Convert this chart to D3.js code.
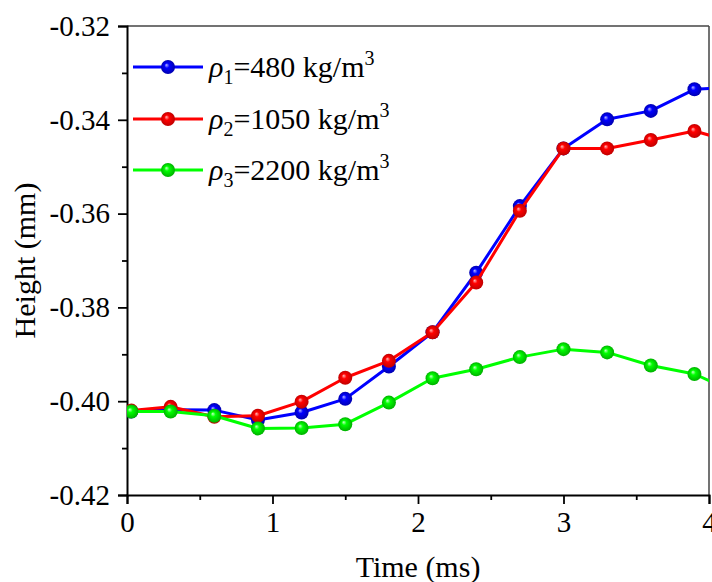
<!DOCTYPE html>
<html>
<head>
<meta charset="utf-8">
<script src="https://cdn.jsdelivr.net/npm/d3@7"></script>
<style>
  html, body { margin: 0; padding: 0; background: #fff; }
  svg text { font-family: "Liberation Serif", "Times New Roman", serif; }
</style>
</head>
<body>
<div id="chart"></div>
<script>
// Sampling times (ms); the last sample lies past the 4 ms edge and is clipped
const times = [0.03, 0.3, 0.6, 0.9, 1.2, 1.5, 1.8, 2.1, 2.4, 2.7, 3.0, 3.3, 3.6, 3.9, 4.2];

// Height (mm) for each density
const rho1Heights = [-0.4022, -0.4018, -0.4019, -0.4040, -0.4024, -0.3995, -0.3926, -0.3853, -0.3726, -0.3584, -0.3461, -0.3399, -0.3381, -0.3335, -0.3330];
const rho2Heights = [-0.4020, -0.4012, -0.4033, -0.4031, -0.4001, -0.3950, -0.3914, -0.3853, -0.3747, -0.3594, -0.3461, -0.3461, -0.3443, -0.3424, -0.3450];
const rho3Heights = [-0.4022, -0.4022, -0.4031, -0.4058, -0.4057, -0.4049, -0.4003, -0.3951, -0.3932, -0.3906, -0.3889, -0.3896, -0.3924, -0.3942, -0.3985];

const seriesNames = ["ρ1", "ρ2", "ρ3"];
const seriesUnits = ["480", "1050", "2200"];
const seriesColors = ["#0000ff", "#ff0000", "#00ff00"];
const seriesDark = ["#0000b0", "#c00000", "#00b000"];
const seriesLight = ["#b8b8ff", "#ffb8b8", "#c8ffc8"];

const xTicks = [0, 1, 2, 3, 4];
const xMinorTicks = [0.5, 1.5, 2.5, 3.5];
const xTickLabels = ["0", "1", "2", "3", "4"];
const yTicks = [-0.42, -0.40, -0.38, -0.36, -0.34, -0.32];
const yMinorTicks = [-0.41, -0.39, -0.37, -0.35, -0.33];
const yTickLabels = ["-0.42", "-0.40", "-0.38", "-0.36", "-0.34", "-0.32"];

const width = 712, height = 582;
const margin = { top: 26, right: 3, bottom: 87, left: 127 };
const serif = "Liberation Serif";

const svg = d3.select("#chart").append("svg")
  .attr("width", width).attr("height", height)
  .attr("font-family", serif);

const x = d3.scaleLinear().domain([0, 4]).range([margin.left, width - margin.right]);
const y = d3.scaleLinear().domain([-0.42, -0.32]).range([height - margin.bottom, margin.top]);

const defs = svg.append("defs");
defs.append("clipPath").attr("id", "plot-clip")
  .append("rect")
  .attr("x", x(0)).attr("y", y(-0.32))
  .attr("width", x(4) - x(0)).attr("height", y(-0.42) - y(-0.32));

// glossy ball markers
seriesColors.forEach((c, i) => {
  const g = defs.append("radialGradient").attr("id", "ball" + i)
    .attr("cx", "50%").attr("cy", "50%").attr("r", "50%")
    .attr("fx", "38%").attr("fy", "35%");
  g.append("stop").attr("offset", "0%").attr("stop-color", seriesLight[i]);
  g.append("stop").attr("offset", "35%").attr("stop-color", c);
  g.append("stop").attr("offset", "100%").attr("stop-color", seriesDark[i]);
});

// frame: top and right edges
svg.append("line")
  .attr("x1", x(0)).attr("x2", x(4)).attr("y1", y(-0.32)).attr("y2", y(-0.32))
  .attr("stroke", "#444").attr("stroke-width", 1.5);
svg.append("line")
  .attr("x1", x(4)).attr("x2", x(4)).attr("y1", y(-0.32)).attr("y2", y(-0.42))
  .attr("stroke", "#444").attr("stroke-width", 1.5);

// axes
const fontSize = 29;
const xAxis = svg.append("g")
  .attr("transform", `translate(0,${y(-0.42)})`)
  .call(d3.axisBottom(x).tickValues(xTicks).tickSize(9).tickPadding(8)
    .tickFormat((d, i) => xTickLabels[i]));
svg.append("g")
  .attr("transform", `translate(0,${y(-0.42)})`)
  .call(d3.axisBottom(x).tickValues(xMinorTicks).tickSize(5).tickFormat(""))
  .call(g => g.select(".domain").remove());

const yAxis = svg.append("g")
  .attr("transform", `translate(${x(0)},0)`)
  .call(d3.axisLeft(y).tickValues(yTicks).tickSize(9).tickPadding(8)
    .tickFormat((d, i) => yTickLabels[i]));
svg.append("g")
  .attr("transform", `translate(${x(0)},0)`)
  .call(d3.axisLeft(y).tickValues(yMinorTicks).tickSize(5).tickFormat(""))
  .call(g => g.select(".domain").remove());

svg.selectAll("g").attr("font-family", serif);
svg.selectAll(".tick line").attr("stroke", "#000").attr("stroke-width", 1.8);
svg.selectAll(".domain").attr("stroke", "#000").attr("stroke-width", 2);
svg.selectAll(".tick text")
  .attr("font-size", fontSize).attr("fill", "#000");
xAxis.selectAll(".tick text").attr("dy", "0.7em");

// axis titles
svg.append("text")
  .attr("x", (x(0) + x(4)) / 2).attr("y", 577)
  .attr("text-anchor", "middle").attr("font-size", 30)
  .text("Time (ms)");
svg.append("text")
  .attr("transform", `translate(35,${(y(-0.32) + y(-0.42)) / 2}) rotate(-90)`)
  .attr("text-anchor", "middle").attr("font-size", 30)
  .text("Height (mm)");

// data series
const allSeries = [rho1Heights, rho2Heights, rho3Heights];
const line = d3.line().x(d => x(d[0])).y(d => y(d[1]));
const plot = svg.append("g").attr("clip-path", "url(#plot-clip)");

allSeries.forEach((vals, i) => {
  const pts = times.map((t, j) => [t, vals[j]]);
  const g = plot.append("g");
  g.append("path")
    .datum(pts)
    .attr("d", line)
    .attr("fill", "none")
    .attr("stroke", seriesColors[i])
    .attr("stroke-width", 3)
    .attr("stroke-linejoin", "round");
  g.selectAll("circle")
    .data(pts)
    .join("circle")
    .attr("cx", d => x(d[0]))
    .attr("cy", d => y(d[1]))
    .attr("r", 7)
    .attr("fill", `url(#ball${i})`);
});

// legend
const legendRows = [67, 119, 170];
const legend = svg.append("g");
seriesNames.forEach((name, i) => {
  const ly = legendRows[i];
  legend.append("line")
    .attr("x1", 133).attr("x2", 203).attr("y1", ly).attr("y2", ly)
    .attr("stroke", seriesColors[i]).attr("stroke-width", 3);
  legend.append("circle")
    .attr("cx", 168).attr("cy", ly).attr("r", 7)
    .attr("fill", `url(#ball${i})`);
  const t = legend.append("text")
    .attr("x", 209).attr("y", ly + 10)
    .attr("font-size", 30);
  t.append("tspan").attr("font-style", "italic").text("ρ");
  t.append("tspan").attr("font-size", 20).attr("dy", 7).text(name.slice(1));
  t.append("tspan").attr("dy", -7).text("=" + seriesUnits[i] + " kg/m");
  t.append("tspan").attr("font-size", 20).attr("dy", -12).text("3");
});
</script>
</body>
</html>
